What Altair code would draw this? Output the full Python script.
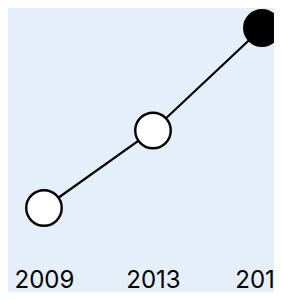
import altair as alt
import pandas as pd

years = ["2009", "2013", "2016"]
values = [20, 51, 92]
highlight = [False, False, True]

df = pd.DataFrame({"year": years, "value": values, "hl": highlight})

x = alt.X("year:O", sort=years,
          scale=alt.Scale(type="point", padding=0.22, align=0.75),
          axis=alt.Axis(title=None, domain=False, ticks=False, labelAngle=0,
                        labelFont="Inter", labelFontSize=24, labelColor="#000000",
                        labelBaseline="alphabetic", labelPadding=29))
y = alt.Y("value:Q", scale=alt.Scale(domain=[0, 100]), axis=None)

line = alt.Chart(df).mark_line(color="#000000", strokeWidth=2.2).encode(x=x, y=y)
pts = alt.Chart(df).mark_point(filled=False, size=1260, strokeWidth=2.4,
                               stroke="#000000", opacity=1, shape="circle").encode(
    x=x, y=y,
    fill=alt.condition("datum.hl", alt.value("#000000"), alt.value("#ffffff")),
)

chart = (line + pts).properties(
    width=266, height=250, padding={"left": 0, "top": 0, "right": 0, "bottom": 34},
    autosize=alt.AutoSizeParams(type="none"),
    background="#e4eff9",
).configure_view(stroke=None)

chart.save("out.html", embed_options={"renderer": "svg", "actions": False})
